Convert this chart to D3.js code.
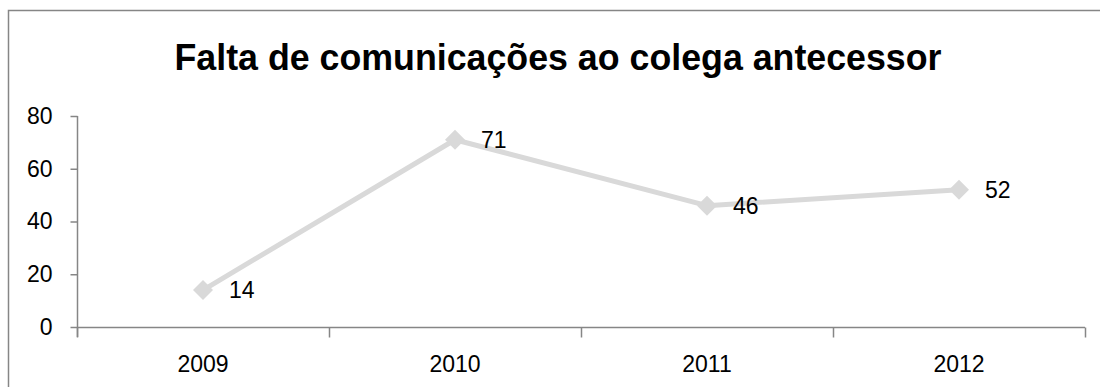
<!DOCTYPE html>
<html>
<head>
<meta charset="utf-8">
<script src="https://cdn.jsdelivr.net/npm/d3@7"></script>
<style>
  html, body { margin: 0; padding: 0; background: #fff; }
  svg { display: block; }
  text { font-family: "Liberation Sans", Arial, sans-serif; fill: #000; }
</style>
</head>
<body>
<svg id="chart" width="1100" height="387"></svg>
<script>
// Chart data
const title = "Falta de comunicações ao colega antecessor";
const years = ["2009", "2010", "2011", "2012"];
const values = [14, 71, 46, 52];
const yTicks = [0, 20, 40, 60, 80];

(function () {
  const svg = d3.select("#chart");
  const W = 1100, H = 387;
  const axisColor = "#868686";
  const lineColor = "#d9d9d9";
  const labelSize = 23;

  // Outer chart frame
  svg.append("rect")
    .attr("x", 8.5).attr("y", 10.5)
    .attr("width", W + 20).attr("height", H + 20)
    .attr("fill", "#fff")
    .attr("stroke", axisColor).attr("stroke-width", 1.5);

  // Title
  svg.append("text")
    .attr("x", 558).attr("y", 70)
    .attr("text-anchor", "middle")
    .attr("font-size", 36).attr("font-weight", "bold")
    .attr("textLength", 767).attr("lengthAdjust", "spacingAndGlyphs")
    .text(title);

  // Plot area
  const plotL = 77, plotR = 1085, plotT = 116, plotB = 327;

  const x = d3.scaleBand().domain(years).range([plotL, plotR]);
  const y = d3.scaleLinear().domain([0, 80]).range([plotB, plotT]);

  // Y axis
  const yAxis = svg.append("g")
    .attr("transform", `translate(${plotL + 0.5},0)`)
    .call(d3.axisLeft(y).tickValues(yTicks).tickSize(7).tickPadding(18).tickSizeOuter(0));
  yAxis.select(".domain").attr("stroke", axisColor).attr("stroke-width", 1.5)
    .attr("d", `M0,${plotT}V${plotB + 10}`);
  yAxis.selectAll(".tick line").attr("stroke", axisColor).attr("stroke-width", 1.5);
  yAxis.selectAll(".tick text")
    .attr("font-size", labelSize).attr("font-family", "Liberation Sans, Arial, sans-serif")
    .attr("fill", "#000");

  // X axis with tick marks on category boundaries
  const xAxis = svg.append("g").attr("transform", `translate(0,${plotB + 0.5})`);
  xAxis.append("line")
    .attr("x1", plotL).attr("x2", plotR)
    .attr("stroke", axisColor).attr("stroke-width", 1.5);
  const bounds = years.map(d => x(d)).concat([x(years[years.length - 1]) + x.bandwidth()]);
  xAxis.selectAll("line.bound").data(bounds).join("line")
    .attr("class", "bound")
    .attr("x1", d => d + 0.5).attr("x2", d => d + 0.5)
    .attr("y1", 0).attr("y2", 10)
    .attr("stroke", axisColor).attr("stroke-width", 1.5);
  xAxis.selectAll("text").data(years).join("text")
    .attr("x", d => x(d) + x.bandwidth() / 2)
    .attr("y", 44)
    .attr("text-anchor", "middle")
    .attr("font-size", labelSize)
    .text(d => d);

  // Series line
  const pts = years.map((d, i) => ({ year: d, value: values[i] }));
  const cx = d => x(d.year) + x.bandwidth() / 2;

  svg.append("path")
    .datum(pts)
    .attr("fill", "none")
    .attr("stroke", lineColor)
    .attr("stroke-width", 5)
    .attr("stroke-linejoin", "round")
    .attr("d", d3.line().x(cx).y(d => y(d.value)));

  // Diamond markers
  svg.selectAll("path.marker").data(pts).join("path")
    .attr("class", "marker")
    .attr("transform", d => `translate(${cx(d)},${y(d.value)})`)
    .attr("d", "M0,-10L10,0L0,10L-10,0Z")
    .attr("fill", lineColor);

  // Value labels
  svg.selectAll("text.value").data(pts).join("text")
    .attr("class", "value")
    .attr("x", d => cx(d) + 26)
    .attr("y", d => y(d.value))
    .attr("dy", "0.36em")
    .attr("font-size", labelSize)
    .text(d => d.value);
})();
</script>
</body>
</html>
